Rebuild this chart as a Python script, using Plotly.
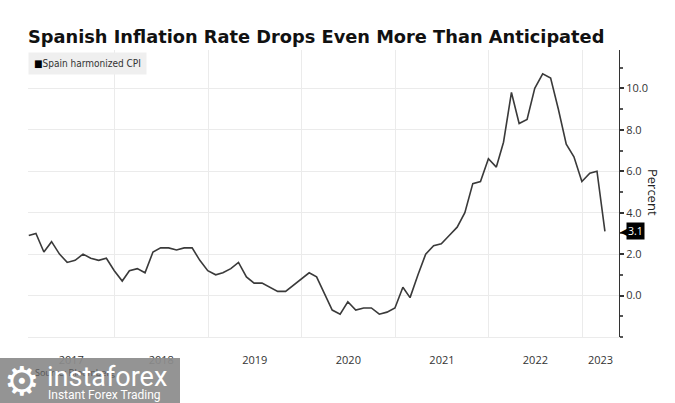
import pandas as pd
import plotly.graph_objects as go

# ---- data ----
start_month = "2017-01-01"
cpi_values = [
    2.9, 3.0, 2.1, 2.6, 2.0, 1.6, 1.7, 2.0, 1.8, 1.7, 1.8, 1.2,   # 2017
    0.7, 1.2, 1.3, 1.1, 2.1, 2.3, 2.3, 2.2, 2.3, 2.3, 1.7, 1.2,   # 2018
    1.0, 1.1, 1.3, 1.6, 0.9, 0.6, 0.6, 0.4, 0.2, 0.2, 0.5, 0.8,   # 2019
    1.1, 0.9, 0.1, -0.7, -0.9, -0.3, -0.7, -0.6, -0.6, -0.9, -0.8, -0.6,  # 2020
    0.4, -0.1, 1.0, 2.0, 2.4, 2.5, 2.9, 3.3, 4.0, 5.4, 5.5, 6.6,  # 2021
    6.2, 7.4, 9.8, 8.3, 8.5, 10.0, 10.7, 10.5, 9.0, 7.3, 6.7, 5.5,  # 2022
    5.9, 6.0, 3.1,                                                # 2023
]
year_labels = ["2017", "2018", "2019", "2020", "2021", "2022", "2023"]
y_tick_values = [0, 2, 4, 6, 8, 10]
y_tick_labels = ["0.0", "2.0", "4.0", "6.0", "8.0", "10.0"]
series_name = "Spain harmonized CPI"
title_text = "Spanish Inflation Rate Drops Even More Than Anticipated"

# monthly values are plotted at month end
dates = pd.date_range(start_month, periods=len(cpi_values), freq="MS") + pd.offsets.MonthEnd(0)

x_start = pd.Timestamp("2017-01-28")
x_end = pd.Timestamp("2023-05-25")
year_starts = [pd.Timestamp(f"{y}-01-01") for y in year_labels]
grid_dates = [d for d in year_starts if x_start < d < x_end]

# labels centred on the visible part of each year
label_pos = []
for i, y in enumerate(year_labels):
    a = max(year_starts[i], x_start)
    b = min(pd.Timestamp(f"{int(y) + 1}-01-01"), x_end)
    label_pos.append(a + (b - a) / 2)

fig = go.Figure()
fig.add_trace(go.Scatter(
    x=dates, y=cpi_values, mode="lines", name=series_name,
    line=dict(color="#3a3a3a", width=1.6), showlegend=False,
))

grid_col = "#ebebeb"
fig.update_layout(
    width=675, height=403,
    margin=dict(l=28, r=56, t=50, b=66),
    paper_bgcolor="white", plot_bgcolor="white",
    font=dict(family="Open Sans, DejaVu Sans, sans-serif", color="#333333", size=11),
    title=dict(text="<b>" + title_text + "</b>", x=0, xref="container", xanchor="left",
               y=1 - 37 / 403, yanchor="middle", pad=dict(l=28),
               font=dict(family="DejaVu Sans, sans-serif", size=17.8, color="#111111")),
    xaxis=dict(
        type="date", range=[x_start, x_end],
        tickvals=label_pos, ticktext=year_labels, ticks="", showgrid=False,
        ticklabelstandoff=13, tickfont=dict(size=11, color="#333333"),
        showline=True, linecolor=grid_col, linewidth=1, zeroline=False,
        minor=dict(tickvals=grid_dates, showgrid=True, gridcolor=grid_col, gridwidth=1, ticks=""),
    ),
    yaxis=dict(
        side="right", range=[-2, 11.85],
        tickvals=y_tick_values, ticktext=y_tick_labels,
        showgrid=True, gridcolor=grid_col, gridwidth=1, zeroline=False,
        showline=True, linecolor="#333333", linewidth=1,
        ticks="outside", ticklen=4, tickwidth=1.5, tickcolor="#333333",
        tickfont=dict(size=11, color="#333333"),
        minor=dict(dtick=1, tick0=1, ticks="outside", ticklen=3, tickcolor="#555555", showgrid=False),
    ),
)

# legend box
fig.add_annotation(
    x=0, y=1, xref="paper", yref="paper", xanchor="left", yanchor="top",
    text="<span style='color:#000'>■</span>" + series_name, showarrow=False,
    bgcolor="#efefef", borderpad=5, yshift=-2,
    font=dict(family="DejaVu Sans Condensed, Liberation Sans Narrow, DejaVu Sans, sans-serif",
              size=10, color="#333333"),
)

# axis title
fig.add_annotation(
    x=1, y=5.0, xref="paper", yref="y", xanchor="center", yanchor="middle",
    xshift=34, text="Percent", textangle=90, showarrow=False,
    font=dict(family="Open Sans, DejaVu Sans, sans-serif", size=13, color="#222222"),
)

# last value tag
last_val = cpi_values[-1]
fig.add_annotation(
    x=1, y=last_val, xref="paper", yref="y", xanchor="left", yanchor="middle",
    xshift=-1, text="◀", showarrow=False,
    font=dict(family="DejaVu Sans, sans-serif", size=10, color="#000000"),
)
fig.add_annotation(
    x=1, y=last_val, xref="paper", yref="y", xanchor="left", yanchor="middle",
    xshift=7, text=f"{last_val:.1f}", showarrow=False,
    bgcolor="#000000", borderpad=1,
    font=dict(family="Open Sans, DejaVu Sans, sans-serif", size=10.5, color="#ffffff"),
)

# watermark (partly covering a source line)
fig.add_annotation(
    x=0, y=0, xref="paper", yref="paper", xanchor="left", yanchor="middle",
    xshift=5, yshift=-35, text="Source: Bloomberg", showarrow=False,
    font=dict(size=9, color="#555555"),
)
fig.add_shape(type="rect", xref="paper", yref="paper",
              x0=-28 / 591, x1=152 / 591, y0=-66 / 287, y1=-21 / 287,
              fillcolor="#8c8c8c", opacity=0.93, line=dict(width=0), layer="above")
fig.add_annotation(
    x=0, y=0, xref="paper", yref="paper", xanchor="left", yanchor="middle",
    xshift=-26, yshift=-44, text="⚙", showarrow=False,
    font=dict(family="DejaVu Sans, sans-serif", size=40, color="#ffffff"),
)
fig.add_annotation(
    x=0, y=0, xref="paper", yref="paper", xanchor="left", yanchor="middle",
    xshift=17, yshift=-40, text="instaforex", showarrow=False,
    font=dict(family="Roboto, DejaVu Sans, sans-serif", size=27, color="#ffffff"),
)
fig.add_annotation(
    x=0, y=0, xref="paper", yref="paper", xanchor="left", yanchor="middle",
    xshift=18, yshift=-58, text="Instant Forex Trading", showarrow=False,
    font=dict(family="Roboto, DejaVu Sans, sans-serif", size=12, color="#ffffff"),
)

fig.write_html("out.html", config={"displayModeBar": False},
               post_script="document.body.style.margin='0';")
